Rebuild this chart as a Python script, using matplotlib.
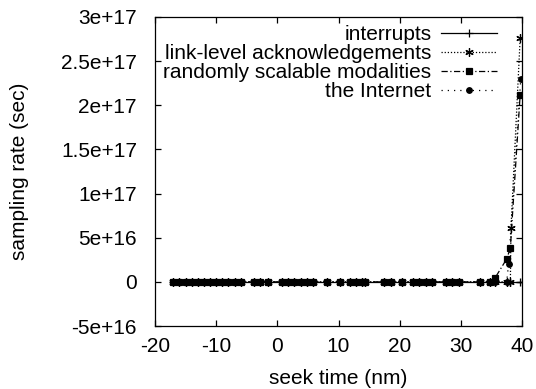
import matplotlib
matplotlib.use("Agg")
import matplotlib.pyplot as plt
import numpy as np

plt.rcParams['font.family'] = ['Liberation Sans', 'DejaVu Sans']
plt.rcParams['axes.unicode_minus'] = False

# shared x positions where every series sits at zero
x_base = [-17.0, -16.0, -15.0, -14.0, -13.0, -12.0, -11.0, -10.0, -9.0, -8.0, -7.0, -6.0,
          -3.8, -2.8, -1.6, 0.8, 1.8, 2.8, 3.8, 4.8, 5.8, 8.2, 10.2, 11.8, 12.8, 13.8, 14.4,
          17.5, 18.6, 20.3, 22.2, 23.2, 24.3, 25.3, 27.5, 28.6, 29.7, 33.2, 34.8]

# tails of each series near the right edge
interrupts_tail_x = [35.6, 37.5, 38.1, 39.7, 40.0]
interrupts_tail_y = [0, 0, 0, 0, 0]
link_tail_x = [35.6, 37.5, 38.1, 38.2, 39.7]
link_tail_y = [0, 0, 0, 6.1e16, 2.76e17]
random_tail_x = [35.6, 37.5, 38.1, 39.7]
random_tail_y = [4.5e15, 2.6e16, 3.85e16, 2.12e17]
internet_tail_x = [35.6, 37.5, 37.8, 39.8]
internet_tail_y = [0, 0, 2.0e16, 2.3e17]

labels = ["interrupts", "link-level acknowledgements", "randomly scalable modalities", "the Internet"]
x_ticks = [-20, -10, 0, 10, 20, 30, 40]
y_ticks = [-5e16, 0, 5e16, 1e17, 1.5e17, 2e17, 2.5e17, 3e17]
y_tick_labels = ["-5e+16", "0", "5e+16", "1e+17", "1.5e+17", "2e+17", "2.5e+17", "3e+17"]

fig = plt.figure(figsize=(5.36, 3.89), dpi=100)
ax = fig.add_axes([155/536, 1-326/389, (522-155)/536, (326-17)/389])

def series(tx, ty):
    return list(x_base) + list(tx), [0.0]*len(x_base) + list(ty)

styles = [
    dict(linestyle='-', marker='+', markersize=6),
    dict(linestyle=(0, (1, 1.5)), marker=(6, 2, 0), markersize=6),
    dict(linestyle=(0, (5, 2, 1, 2)), marker='s', markersize=5),
    dict(linestyle=(0, (1, 4)), marker='o', markersize=4),
]
tails = [(interrupts_tail_x, interrupts_tail_y), (link_tail_x, link_tail_y),
         (random_tail_x, random_tail_y), (internet_tail_x, internet_tail_y)]
for lab, (tx, ty), st in zip(labels, tails, styles):
    xs, ys = series(tx, ty)
    ax.plot(xs, ys, color='black', linewidth=0.9, label=lab, markeredgewidth=0.9, **st)

ax.set_xlim(-20, 40)
ax.set_ylim(-5e16, 3e17)
ax.set_xticks(x_ticks)
ax.set_yticks(y_ticks)
ax.set_yticklabels(y_tick_labels)
ax.tick_params(direction='in', length=4.5, width=0.9, top=True, right=True, labelsize=15)
ax.tick_params(axis='y', pad=13)
ax.tick_params(axis='x', pad=8)
for s in ax.spines.values():
    s.set_linewidth(0.9)
ax.set_xlabel("seek time (nm)", fontsize=15, va='center')
ax.set_ylabel("sampling rate (sec)", fontsize=15, va='center')
ax.xaxis.set_label_coords(0.5, (326-378)/309)
ax.yaxis.set_label_coords((20-155)/367, 0.5)

leg = ax.legend(loc='upper right', frameon=False, markerfirst=False, fontsize=15,
                handlelength=2.7, labelspacing=0.0, borderaxespad=0.0, borderpad=0.0,
                handletextpad=0.45,
                bbox_to_anchor=((497-155)/367, 1-(25-17)/309))
try:
    for col in leg._legend_box._children[-1]._children:
        col.align = "right"
except Exception:
    pass

fig.savefig("out.png", dpi=100)
